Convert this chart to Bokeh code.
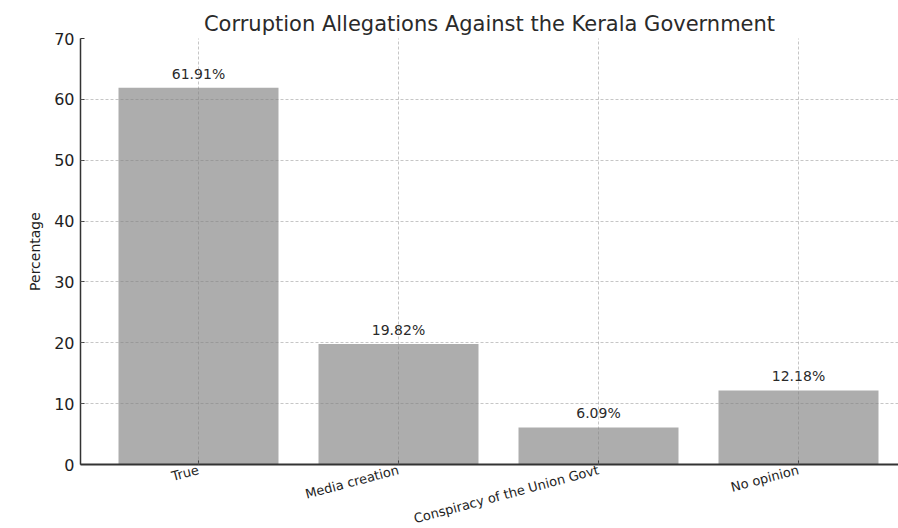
from bokeh.plotting import figure
from bokeh.models import ColumnDataSource, FixedTicker, Range1d
from bokeh.embed import file_html
from bokeh.resources import INLINE
from bokeh.core.properties import value
import math

categories = ["True", "Media creation", "Conspiracy of the Union Govt", "No opinion"]
percentages = [61.91, 19.82, 6.09, 12.18]
y_ticks = [0, 10, 20, 30, 40, 50, 60, 70]

xs = list(range(len(categories)))
src = ColumnDataSource(dict(
    x=xs,
    top=percentages,
    label=[f"{v:.2f}%" for v in percentages],
))

FONT = "DejaVu Sans"

p = figure(
    frame_width=818, frame_height=426,
    min_border_left=80, min_border_right=0, min_border_top=38, min_border_bottom=0,
    x_range=Range1d(-0.59, 3.5), y_range=Range1d(0, 70),
    output_backend="svg", toolbar_location=None,
    title="Corruption Allegations Against the Kerala Government",
)
p.outline_line_color = None
p.background_fill_color = "white"
p.border_fill_color = "white"

p.title.align = "center"
p.title.offset = 9
p.title.standoff = 6
p.title.text_font = FONT
p.title.text_font_size = "21px"
p.title.text_font_style = "normal"
p.title.text_color = "#2a2a2a"

p.vbar(x="x", top="top", width=0.8, bottom=0, source=src,
       fill_color="#adadad", line_color=None)

p.text(x="x", y="top", text="label", source=src, y_offset=-6,
       text_align="center", text_baseline="bottom",
       text_font=value(FONT), text_font_size="14px", text_color="#2a2a2a")

# grids above bars
for g in (p.xgrid, p.ygrid):
    g.level = "overlay"
    g.grid_line_color = "#808080"
    g.grid_line_alpha = 0.45
    g.grid_line_dash = "3 2"
    g.grid_line_width = 1

p.xaxis.ticker = FixedTicker(ticks=xs)
p.xaxis.major_label_overrides = {i: c for i, c in enumerate(categories)}
p.xaxis.major_label_orientation = math.radians(15)
p.xaxis.major_label_standoff = 5
p.yaxis.ticker = FixedTicker(ticks=y_ticks)
p.yaxis.axis_label = "Percentage"

for ax in (p.xaxis, p.yaxis):
    ax.axis_line_color = "#333333"
    ax.major_tick_line_color = "#333333"
    ax.major_tick_in = 4
    ax.major_tick_out = 0
    ax.minor_tick_line_color = None
    ax.major_label_text_font = FONT
    ax.major_label_text_color = "#1e1e1e"
    ax.axis_label_text_font = FONT
    ax.axis_label_text_font_style = "normal"
    ax.axis_label_text_color = "#1e1e1e"

p.xaxis.axis_line_width = 2
p.yaxis.axis_line_width = 1.5
p.xaxis.major_label_text_font_size = "13px"
p.yaxis.major_label_text_font_size = "16px"
p.yaxis.major_label_standoff = 6
p.yaxis.axis_label_text_font_size = "14px"
p.yaxis.axis_label_standoff = 8

open("out.html", "w").write(file_html(p, INLINE))
